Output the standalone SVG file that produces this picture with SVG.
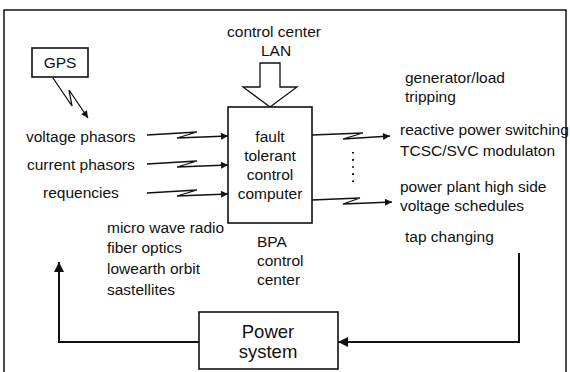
<svg xmlns="http://www.w3.org/2000/svg" width="570" height="372" viewBox="0 0 570 372">
<defs>
<style>
text{font-family:"Liberation Sans",Arial,sans-serif;font-size:15.5px;fill:#111}
.big{font-size:18.5px}
.box{fill:#fff;stroke:#111;stroke-width:1.6}
.ln{fill:none;stroke:#111;stroke-width:1.3}
.lp{fill:none;stroke:#111;stroke-width:2}
</style>
<marker id="ah" viewBox="0 0 10 10" refX="10" refY="5" markerWidth="9" markerHeight="7" markerUnits="userSpaceOnUse" orient="auto"><path d="M0,0 L10,5 L0,10 z" fill="#111"/></marker>
<marker id="ahb" viewBox="0 0 10 10" refX="10" refY="5" markerWidth="12" markerHeight="10" markerUnits="userSpaceOnUse" orient="auto"><path d="M0,0 L10,5 L0,10 z" fill="#111"/></marker>
</defs>
<rect x="4" y="10" width="562" height="370" fill="none" stroke="#111" stroke-width="1.5"/>
<g id="gps"><rect class="box" x="32" y="48" width="56" height="29"/><text x="60" y="68" text-anchor="middle">GPS</text></g>
<g id="lan"><text x="274" y="37" text-anchor="middle">control center</text><text x="276" y="56" text-anchor="middle">LAN</text><path d="M260,63 H280 V87 H297 L270,107 L243,87 H260 Z" fill="#fff" stroke="#111" stroke-width="1.3"/></g>
<g id="computer"><rect class="box" x="228" y="107" width="84" height="116"/><text x="270" y="142" text-anchor="middle">fault</text><text x="270" y="161" text-anchor="middle">tolerant</text><text x="270" y="180" text-anchor="middle">control</text><text x="270" y="199" text-anchor="middle">computer</text></g>
<g id="bpa"><text x="257" y="247">BPA</text><text x="257" y="266">control</text><text x="257" y="285">center</text></g>
<g id="inputs"><text x="26" y="142">voltage phasors</text><text x="27" y="170">current phasors</text><text x="43" y="198">requencies</text></g>
<g id="media"><text x="107" y="233">micro wave radio</text><text x="107" y="253">fiber optics</text><text x="107" y="274">lowearth orbit</text><text x="107" y="295">sastellites</text></g>
<g id="outputs"><text x="405" y="83">generator/load</text><text x="405" y="102">tripping</text><text x="400" y="135">reactive power switching</text><text x="400" y="156">TCSC/SVC modulaton</text><text x="400" y="192">power plant high side</text><text x="400" y="211">voltage schedules</text><text x="405" y="242">tap changing</text></g>
<g id="power-system"><rect class="box" x="199" y="312" width="139" height="57" stroke-width="2"/><text class="big" x="268" y="338" text-anchor="middle">Power</text><text class="big" x="268" y="358" text-anchor="middle">system</text></g>
<g id="connectors">
<path class="ln" d="M53,78 L72,106 L69,90 L88,118" marker-end="url(#ah)"/>
<path class="ln" d="M147,135 L197,132 L177,138 L228,136" marker-end="url(#ah)"/>
<path class="ln" d="M147,164 L197,161 L177,167 L228,165" marker-end="url(#ah)"/>
<path class="ln" d="M147,193 L197,190 L177,196 L228,194" marker-end="url(#ah)"/>
<path class="ln" d="M312,135 L363,133 L343,139 L390,136" marker-end="url(#ah)"/>
<path class="ln" d="M312,200 L360,198 L343,204 L392,202" marker-end="url(#ah)"/>
<path d="M353,152 V184" fill="none" stroke="#111" stroke-width="2" stroke-dasharray="1.6,5.5"/>
<path class="lp" d="M199,342 H59 V262" marker-end="url(#ahb)"/>
<path class="lp" d="M519,253 V342 H338" marker-end="url(#ahb)"/>
</g>
</svg>
